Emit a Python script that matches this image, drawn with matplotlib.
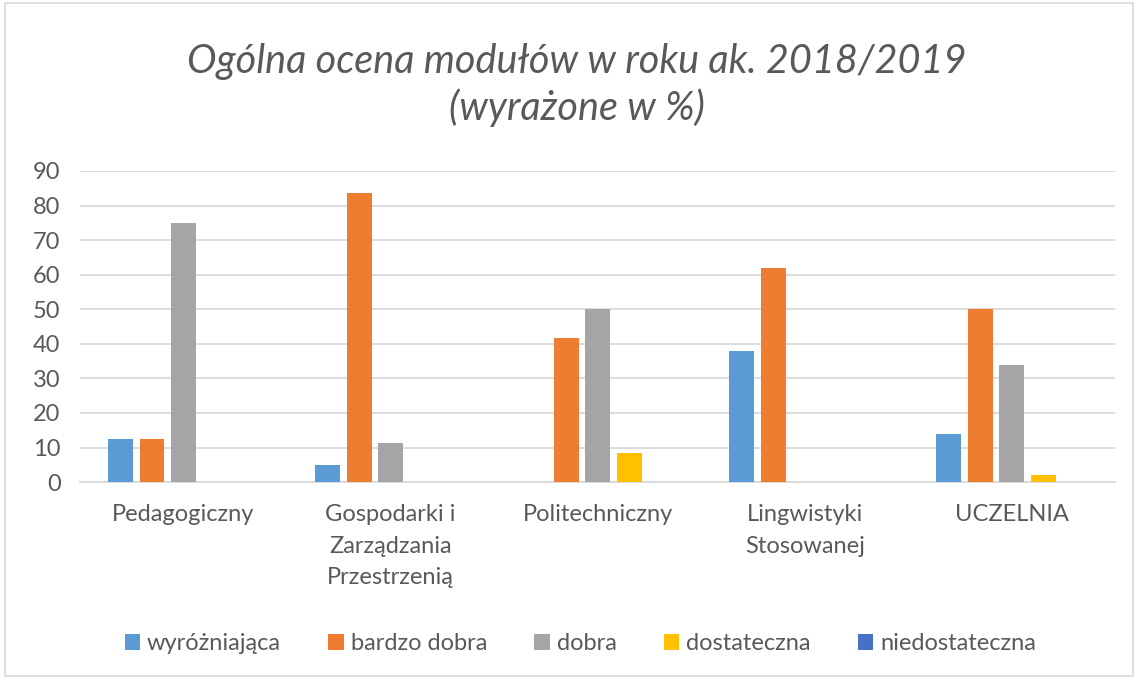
import numpy as np
import matplotlib.pyplot as plt
from matplotlib.patches import Rectangle

# Data
categories = ["Pedagogiczny", "Gospodarki i\nZarządzania\nPrzestrzenią", "Politechniczny",
              "Lingwistyki\nStosowanej", "UCZELNIA"]
series_names = ["wyróżniająca", "bardzo dobra", "dobra", "dostateczna", "niedostateczna"]
wyrozniajaca = [12.5, 5.1, 0, 38.0, 13.8]
bardzo_dobra = [12.5, 83.5, 41.7, 62.0, 50.0]
dobra = [75.0, 11.4, 50.0, 0, 34.0]
dostateczna = [0, 0, 8.3, 0, 2.1]
niedostateczna = [0, 0, 0, 0, 0]
values = [wyrozniajaca, bardzo_dobra, dobra, dostateczna, niedostateczna]
colors = ["#5B9BD5", "#ED7D31", "#A5A5A5", "#FFC000", "#4472C4"]

plt.rcParams['font.family'] = ['Lato', 'DejaVu Sans']
text_col = "#595959"

fig = plt.figure(figsize=(11.38, 6.81), dpi=100)
fig.patches.append(Rectangle((0.004, 0.008), 0.992, 0.988, transform=fig.transFigure,
                             fill=False, edgecolor="#d9d9d9", linewidth=1.2))
ax = fig.add_axes([0.0703, 0.292, 0.9097, 0.457])

x = np.arange(len(categories))
width = 0.12
step = 0.152
for i, (name, vals, c) in enumerate(zip(series_names, values, colors)):
    ax.bar(x + (i - 2) * step, vals, width, color=c, label=name, zorder=3)

ax.set_xlim(-0.5, len(categories) - 0.5)
ax.set_ylim(0, 90)
ax.set_yticks(range(0, 91, 10))
ax.yaxis.grid(True, color="#d9d9d9", linewidth=1.3, zorder=0)
for s in ["top", "right", "left"]:
    ax.spines[s].set_visible(False)
ax.spines["bottom"].set_color("#d9d9d9")
ax.spines["bottom"].set_linewidth(1.3)
ax.set_xticks(x)
ax.set_xticklabels(categories, linespacing=1.6)
ax.tick_params(axis="both", length=0, labelsize=17, colors=text_col)
ax.tick_params(axis="x", pad=16)
ax.tick_params(axis="y", pad=14)

fig.text(0.507, 0.909, "Ogólna ocena modułów w roku ak. 2018/2019", ha="center", va="center",
         fontsize=28.5, style="italic", color=text_col)
fig.text(0.507, 0.842, "(wyrażone w %)", ha="center", va="center",
         fontsize=28.5, style="italic", color=text_col)

fig.legend(loc="center", bbox_to_anchor=(0.51, 0.055), ncol=5, frameon=False,
           fontsize=17, handlelength=0.65, handleheight=0.65, handletextpad=0.3,
           columnspacing=2.0, labelcolor=text_col)

fig.savefig("out.png", dpi=100)
